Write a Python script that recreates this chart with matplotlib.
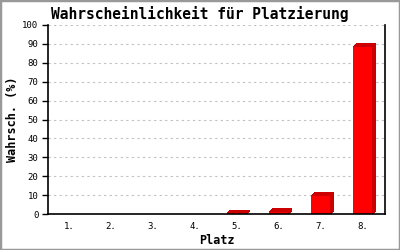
import matplotlib
matplotlib.use('Agg')
import matplotlib.pyplot as plt
from matplotlib.patches import Polygon, Rectangle

# Daten
plaetze = ['1.', '2.', '3.', '4.', '5.', '6.', '7.', '8.']
wahrsch = [0.0, 0.0, 0.0, 0.0, 0.5, 1.2, 9.7, 88.6]
y_ticks = [0, 10, 20, 30, 40, 50, 60, 70, 80, 90, 100]

front = '#ff0000'
dunkel = '#cc0000'
breite = 0.45
tiefe_x = 0.085
tiefe_y = 1.6

plt.rcParams['font.family'] = ['DejaVu Sans Mono', 'DejaVu Sans']

fig = plt.figure(figsize=(4, 2.5), dpi=100)
ax = fig.add_axes([0.12, 0.144, 0.8425, 0.756])

pos = list(range(1, len(plaetze) + 1))
for x, v in zip(pos, wahrsch):
    if v <= 0:
        continue
    l, r = x - breite / 2, x + breite / 2
    # Oberseite
    ax.add_patch(Polygon([(l, v), (r, v), (r + tiefe_x, v + tiefe_y), (l + tiefe_x, v + tiefe_y)],
                         closed=True, facecolor=dunkel, edgecolor='none', antialiased=False, zorder=3))
    # rechte Seite
    ax.add_patch(Polygon([(r, 0), (r + tiefe_x, tiefe_y), (r + tiefe_x, v + tiefe_y), (r, v)],
                         closed=True, facecolor=dunkel, edgecolor='none', antialiased=False, zorder=3))
    # Vorderseite
    ax.add_patch(Rectangle((l, 0), breite, v, facecolor=front, edgecolor='none',
                           antialiased=False, zorder=4))

ax.set_xlim(0.5, 8.53)
ax.set_ylim(0, 100)
ax.set_xticks(pos)
ax.set_xticklabels(plaetze)
ax.set_yticks(y_ticks)
ax.tick_params(axis='x', length=0, pad=6, labelsize=6.5)
ax.tick_params(axis='y', length=4, width=1, pad=3, labelsize=6.5, direction='out')
ax.yaxis.grid(True, color='#c0c0c0', linestyle=(0, (2, 3)), linewidth=0.8)
ax.set_axisbelow(True)

for s in ['left', 'bottom', 'right']:
    ax.spines[s].set_linewidth(1.2)
    ax.spines[s].set_color('black')
    ax.spines[s].set_zorder(5)
ax.spines['top'].set_visible(False)

ax.set_xlabel('Platz', fontsize=8.5, fontweight='bold', labelpad=2)
ax.set_ylabel('Wahrsch. (%)', fontsize=8.5, fontweight='bold')
ax.yaxis.set_label_coords(-0.085, 0.5)

fig.text(0.5, 0.945, 'Wahrscheinlichkeit für Platzierung', ha='center', va='center',
         fontsize=10.5, fontweight='bold')

fig.patches.append(Rectangle((0, 0), 1, 1, transform=fig.transFigure, fill=False,
                             edgecolor='#999999', linewidth=2.5, zorder=10))

fig.savefig('out.png', dpi=100)
